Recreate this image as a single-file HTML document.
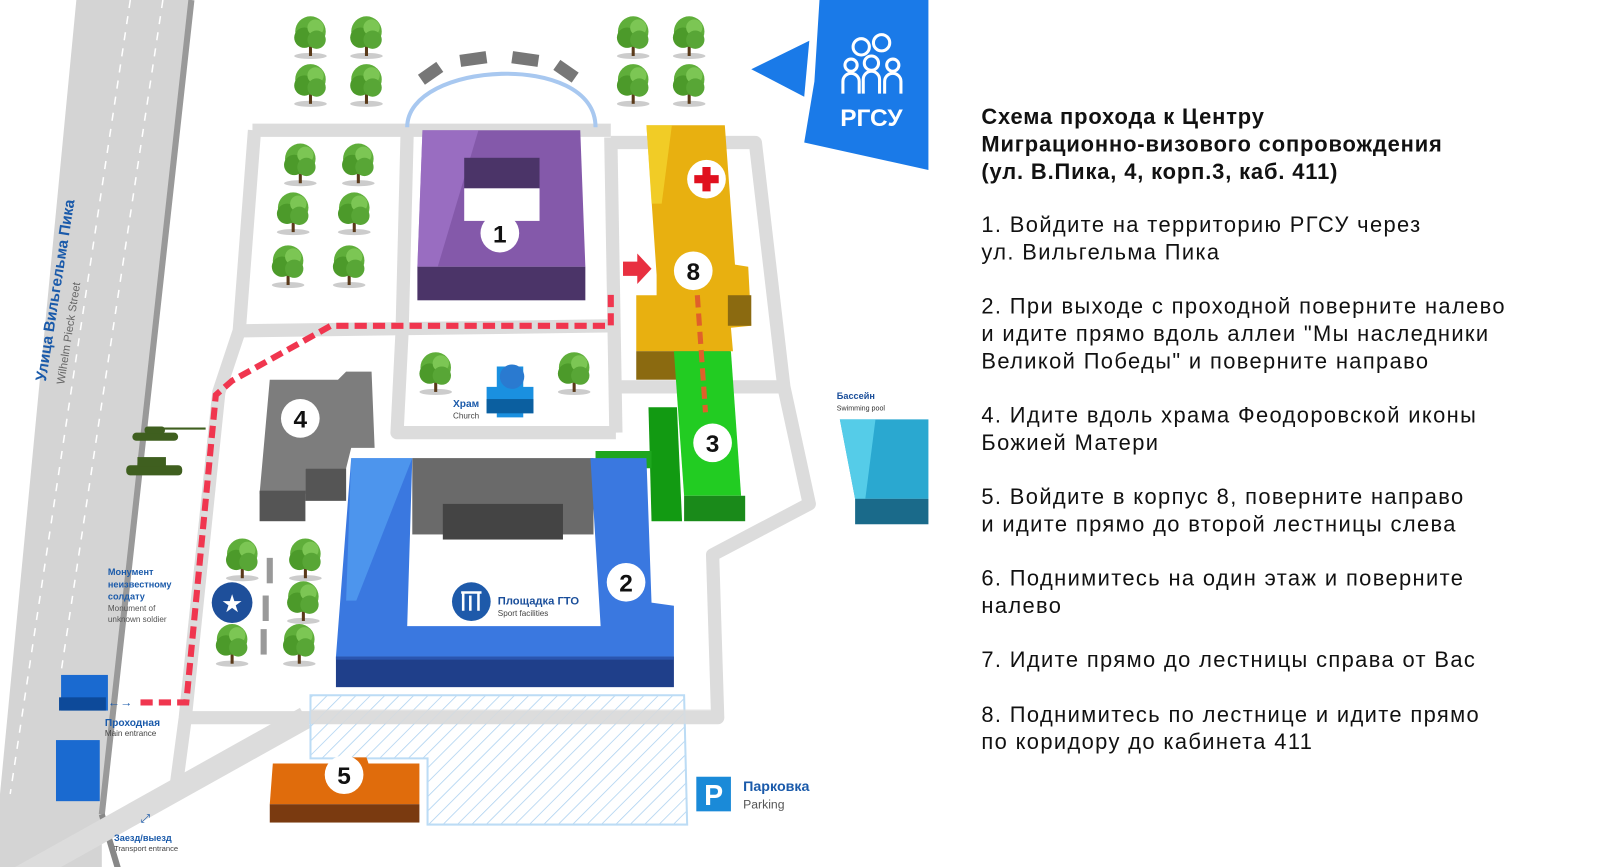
<!DOCTYPE html>
<html><head><meta charset="utf-8"><style>
body{margin:0;width:1600px;height:867px;background:#fff;overflow:hidden;font-family:"Liberation Sans",sans-serif}
#w{position:absolute;left:0;top:0;width:1572px;height:852px;transform:scale(1.018);transform-origin:0 0}
svg{position:absolute;left:0;top:0}
.t{position:absolute;left:964px;color:#111;font-size:21.5px;line-height:26.9px;white-space:nowrap;letter-spacing:1.35px}
.h{font-weight:bold;top:102px;letter-spacing:0.85px}
</style></head><body><div id="w">
<svg width="1572" height="852" viewBox="0 0 1572 852" font-family="Liberation Sans, sans-serif">
<defs>
<pattern id="hat" width="10" height="10" patternUnits="userSpaceOnUse" patternTransform="rotate(45)"><line x1="0" y1="0" x2="0" y2="10" stroke="#aad0f0" stroke-width="1.5"/></pattern>
<g id="tr"><ellipse cx="0" cy="20" rx="16" ry="3" fill="#ccc"/><rect x="-1.5" y="8" width="3" height="12" fill="#5a3a1a"/><circle cx="0" cy="-4" r="15" fill="#5fae3a"/><circle cx="-6" cy="2" r="10" fill="#4c9a2a"/><circle cx="5" cy="-8" r="8" fill="#7cc654"/><circle cx="6" cy="4" r="9" fill="#58a636"/></g>
</defs>
<polygon points="75,0 188,0 125,560 100,800 100,867 0,867 0,780" fill="#d4d4d4"/>
<line x1="188" y1="0" x2="100" y2="800" stroke="#999" stroke-width="6"/>
<line x1="100" y1="800" x2="120" y2="867" stroke="#888" stroke-width="6"/>
<line x1="128" y1="0" x2="10" y2="780" stroke="#fff" stroke-width="1.5" stroke-dasharray="8,8"/>
<line x1="160" y1="0" x2="60" y2="660" stroke="#fff" stroke-width="1.5" stroke-dasharray="8,8"/>
<g fill="none" stroke="#dcdcdc" stroke-width="13" stroke-linejoin="round">
<path d="M248,128 L600,128"/>
<path d="M600,140 L742,140 L770,380 L795,495 L700,545 L705,705 L182,705"/>
<path d="M600,135 L605,425"/>
<path d="M400,128 L395,325"/>
<path d="M250,128 L235,325 L215,385 L182,705 L172,780"/>
<path d="M235,325 L605,320"/>
<path d="M395,325 L390,425 L605,425"/>
<path d="M605,380 L770,380"/>
</g>
<path d="M10,867 L300,705" stroke="#dcdcdc" stroke-width="22"/>
<path d="M400,125 C400,60 585,50 585,125" fill="none" stroke="#a8c8f0" stroke-width="4"/>
<g fill="#777"><rect x="412" y="66" width="22" height="12" transform="rotate(-35 423 72)"/><rect x="452" y="52" width="26" height="12" transform="rotate(-8 465 58)"/><rect x="503" y="52" width="26" height="12" transform="rotate(8 516 58)"/><rect x="545" y="64" width="22" height="12" transform="rotate(35 556 70)"/></g>
<g>
<use href="#tr" x="305" y="35"/><use href="#tr" x="360" y="35"/><use href="#tr" x="305" y="82"/><use href="#tr" x="360" y="82"/>
<use href="#tr" x="622" y="35"/><use href="#tr" x="677" y="35"/><use href="#tr" x="622" y="82"/><use href="#tr" x="677" y="82"/>
<use href="#tr" x="295" y="160"/><use href="#tr" x="352" y="160"/><use href="#tr" x="288" y="208"/><use href="#tr" x="348" y="208"/><use href="#tr" x="283" y="260"/><use href="#tr" x="343" y="260"/>
<use href="#tr" x="428" y="365"/><use href="#tr" x="564" y="365"/>
<use href="#tr" x="238" y="548"/><use href="#tr" x="300" y="548"/><use href="#tr" x="298" y="590"/><use href="#tr" x="228" y="632"/><use href="#tr" x="294" y="632"/>
</g>
<g fill="#999"><rect x="262" y="548" width="6" height="25"/><rect x="258" y="585" width="6" height="25"/><rect x="256" y="618" width="6" height="25"/></g>
<circle cx="228" cy="592" r="20" fill="#1e4f9a"/><text x="228" y="601" font-size="24" fill="#fff" text-anchor="middle">★</text>
<g fill="#3f5f1f"><rect x="130" y="425" width="45" height="8" rx="4"/><rect x="142" y="419" width="20" height="7" rx="3"/><line x1="160" y1="421" x2="202" y2="421" stroke="#3f5f1f" stroke-width="2"/>
<rect x="124" y="457" width="55" height="10" rx="4"/><rect x="135" y="449" width="28" height="9"/></g>
<polygon points="415,128 570,128 575,262 410,262" fill="#8459aa"/>
<polygon points="415,128 470,128 430,262 410,262" fill="#a77cd0" opacity=".6"/>
<rect x="410" y="262" width="165" height="33" fill="#4b3468"/>
<rect x="456" y="155" width="74" height="30" fill="#4b3468"/><rect x="456" y="185" width="74" height="32" fill="#fff"/>
<polygon points="635,123 712,123 722,260 735,262 738,320 718,322 720,345 625,345 625,290 645,290 645,270" fill="#e8b010"/>
<polygon points="635,123 660,123 650,200 640,200" fill="#f5d830" opacity=".7"/>
<rect x="625" y="345" width="92" height="28" fill="#8b6a10"/>
<rect x="715" y="290" width="23" height="30" fill="#8b6a10"/>
<circle cx="694" cy="176" r="19" fill="#fff"/><path d="M690,164h8v8h8v8h-8v8h-8v-8h-8v-8h8z" fill="#e0101e"/>
<polygon points="637,400 665,400 670,512 640,512" fill="#129a12"/>
<polygon points="585,443 640,443 640,460 585,460" fill="#1ea61e"/>
<polygon points="662,345 718,345 728,487 672,487" fill="#22cc22"/>
<rect x="672" y="487" width="60" height="25" fill="#1a8a1a"/>
<polygon points="265,373 332,373 340,365 365,365 368,440 345,440 340,460 300,460 300,485 255,485" fill="#7d7d7d"/>
<rect x="255" y="482" width="45" height="30" fill="#555"/><rect x="300" y="460" width="40" height="32" fill="#555"/>
<rect x="405" y="450" width="178" height="75" fill="#6a6a6a"/><rect x="435" y="495" width="118" height="35" fill="#444"/>
<path d="M345,450 L405,450 L400,615 L590,615 L580,450 L635,450 L640,592 L662,595 L662,645 L330,645 Z" fill="#3a78e0"/>
<polygon points="345,450 405,450 350,590 340,590" fill="#5aa8f5" opacity=".6"/>
<rect x="330" y="645" width="332" height="30" fill="#1f3f8a"/>
<rect x="330" y="645" width="332" height="3" fill="#2a55b0"/>
<circle cx="463" cy="591" r="19" fill="#1e5aaa"/><path d="M453,582h20M455,582v18M462,585v15M470,582v18" stroke="#fff" stroke-width="2.5" fill="none"/>
<text x="489" y="594" font-size="11" font-weight="bold" fill="#1a4e9a">Площадка ГТО</text>
<text x="489" y="605" font-size="8" fill="#444">Sport facilities</text>
<path d="M488,360h26v20h10v26h-10v4h-26v-4h-10v-26h10z" fill="#1a90e0"/>
<rect x="478" y="392" width="46" height="14" fill="#0b5fa0"/>
<circle cx="503" cy="370" r="12" fill="#2a7ad0"/>
<text x="445" y="400" font-size="10" font-weight="bold" fill="#1a5aaa">Храм</text>
<text x="445" y="411" font-size="8" fill="#444">Church</text>
<polygon points="825,412 912,412 912,490 840,490" fill="#2aa8d0"/>
<polygon points="825,412 860,412 850,490 840,490" fill="#55cce8"/>
<rect x="840" y="490" width="72" height="25" fill="#1a6a8a"/>
<text x="822" y="392" font-size="9" font-weight="bold" fill="#1a4e9a">Бассейн</text>
<text x="822" y="403" font-size="7" fill="#333">Swimming pool</text>
<polygon points="305,683 672,683 675,810 420,810 420,745 305,745" fill="url(#hat)" stroke="#bcdcf5" stroke-width="2"/>
<rect x="305" y="697" width="400" height="14" fill="#dcdcdc" opacity=".8"/>
<polygon points="268,750 325,750 330,744 360,744 362,750 412,750 412,790 265,790" fill="#e06c0c"/>
<rect x="265" y="790" width="147" height="18" fill="#7a3a10"/>
<rect x="683" y="762" width="36" height="36" fill="#1a8ad8" stroke="#fff" stroke-width="2"/>
<text x="701" y="791" font-size="28" font-weight="bold" fill="#fff" text-anchor="middle">P</text>
<text x="730" y="777" font-size="14" font-weight="bold" fill="#1a5aaa">Парковка</text>
<text x="730" y="794" font-size="12" fill="#555">Parking</text>
<rect x="60" y="663" width="46" height="35" fill="#1a6ad0"/><rect x="58" y="685" width="46" height="13" fill="#0d4a9a"/>
<rect x="55" y="727" width="43" height="60" fill="#1a6ad0"/>
<text x="106" y="694" font-size="12" fill="#1a5aaa">←→</text>
<text x="103" y="713" font-size="10" font-weight="bold" fill="#1a5aaa">Проходная</text>
<text x="103" y="723" font-size="8" fill="#444">Main entrance</text>
<text x="138" y="808" font-size="12" fill="#1a5aaa">⤢</text>
<text x="112" y="826" font-size="9" font-weight="bold" fill="#1a5aaa">Заезд/выезд</text>
<text x="112" y="836" font-size="7.5" fill="#444">Transport entrance</text>
<text x="106" y="565" font-size="9" font-weight="bold" fill="#1a5aaa">Монумент</text>
<text x="106" y="577" font-size="9" font-weight="bold" fill="#1a5aaa">неизвестному</text>
<text x="106" y="589" font-size="9" font-weight="bold" fill="#1a5aaa">солдату</text>
<text x="106" y="600" font-size="8" fill="#555">Monument of</text>
<text x="106" y="611" font-size="8" fill="#555">unknown soldier</text>
<text transform="translate(45,375) rotate(-81)" font-size="15" font-weight="bold" fill="#1a5aaa">Улица Вильгельма Пика</text>
<text transform="translate(63,378) rotate(-81)" font-size="11" fill="#666">Wilhelm Pieck Street</text>
<path d="M138,690 L183,690 L212,388 L228,374 L325,320 L600,320 L600,285" fill="none" stroke="#f0364f" stroke-width="6" stroke-dasharray="12,6"/>
<path d="M685,290 L693,405" stroke="#e0602a" stroke-width="5" stroke-dasharray="12,6"/>
<path d="M612,257h14v-8l14,15l-14,15v-8h-14z" fill="#e83040"/>
<g font-size="24" font-weight="bold" text-anchor="middle" fill="#111">
<circle cx="491" cy="229" r="19" fill="#fff"/><text x="491" y="238">1</text>
<circle cx="681" cy="266" r="19" fill="#fff"/><text x="681" y="275">8</text>
<circle cx="700" cy="435" r="19" fill="#fff"/><text x="700" y="444">3</text>
<circle cx="295" cy="411" r="19" fill="#fff"/><text x="295" y="420">4</text>
<circle cx="615" cy="572" r="19" fill="#fff"/><text x="615" y="581">2</text>
<circle cx="338" cy="761" r="19" fill="#fff"/><text x="338" y="770">5</text>
</g>
<polygon points="738,68 795,40 790,95" fill="#1a7ae8"/>
<polygon points="805,0 912,0 912,167 790,140 800,80" fill="#1a7ae8"/>
<g fill="none" stroke="#fff" stroke-width="3"><circle cx="846" cy="46" r="8"/><circle cx="866" cy="42" r="8"/><circle cx="856" cy="62" r="7"/><circle cx="836" cy="64" r="6"/><circle cx="877" cy="64" r="6"/><path d="M828,92v-12a8,8 0 0 1 16,0v12M848,92v-14a8,8 0 0 1 16,0v14M869,92v-12a8,8 0 0 1 16,0v12"/></g>
<text x="856" y="124" font-size="24" font-weight="bold" fill="#fff" text-anchor="middle">РГСУ</text>
</svg>
<div class="t h">Схема прохода к Центру<br>Миграционно-визового сопровождения<br>(ул. В.Пика, 4, корп.3, каб. 411)</div>
<div class="t" style="top:208px">1. Войдите на территорию РГСУ через<br>ул. Вильгельма Пика</div>
<div class="t" style="top:288px">2. При выходе с проходной поверните налево<br>и идите прямо вдоль аллеи "Мы наследники<br>Великой Победы" и поверните направо</div>
<div class="t" style="top:395px">4. Идите вдоль храма Феодоровской иконы<br>Божией Матери</div>
<div class="t" style="top:475px">5. Войдите в корпус 8, поверните направо<br>и идите прямо до второй лестницы слева</div>
<div class="t" style="top:555px">6. Поднимитесь на один этаж и поверните<br>налево</div>
<div class="t" style="top:635px">7. Идите прямо до лестницы справа от Вас</div>
<div class="t" style="top:689px">8. Поднимитесь по лестнице и идите прямо<br>по коридору до кабинета 411</div>
</div></body></html>
